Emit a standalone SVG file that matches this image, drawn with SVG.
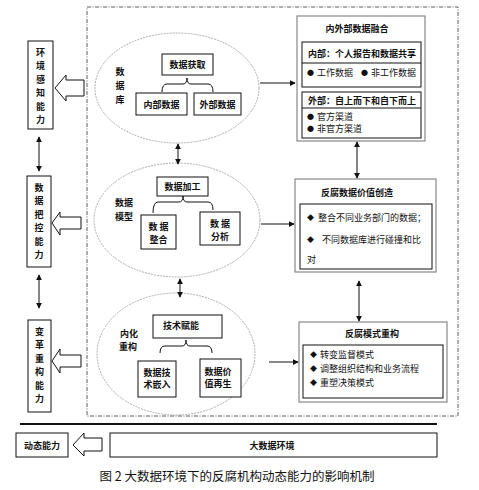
<svg xmlns="http://www.w3.org/2000/svg" width="479" height="490" viewBox="0 0 479 490">
<defs>
<style>
text{font-family:"Noto Sans CJK SC","Liberation Sans",sans-serif;font-size:9px;fill:#111;}
.c{text-anchor:middle;dominant-baseline:central;}
.l{dominant-baseline:central;}
.b{font-weight:bold;}
.d{font-size:7px;}
.box{fill:#fff;stroke:#111;stroke-width:1;}
.gbox{fill:#fff;stroke:#888;stroke-width:1.2;}
.ell{fill:#fff;stroke:#999;stroke-width:0.8;stroke-dasharray:2 1;}
.hol{fill:#fff;stroke:#111;stroke-width:1;}
.ln{fill:none;stroke:#111;stroke-width:1;}
.br{fill:none;stroke:#111;stroke-width:1;}
</style>
<marker id="ah" viewBox="0 0 8 8" refX="7" refY="4" markerWidth="6" markerHeight="6" orient="auto-start-reverse" markerUnits="userSpaceOnUse">
<path d="M0,0 L8,4 L0,8 z" fill="#111"/>
</marker>
</defs>
<rect width="479" height="490" fill="#fff"/>

<!-- outer dashed frame -->
<rect x="87" y="7" width="371" height="409" fill="none" stroke="#333" stroke-width="0.8" stroke-dasharray="4 1.5 1 1.5"/>

<!-- left capability boxes -->
<g id="env">
<rect class="box" x="28" y="41" width="25" height="88"/>
<text class="c b" x="40.5" y="52">环</text><text class="c b" x="40.5" y="65.5">境</text><text class="c b" x="40.5" y="79">感</text><text class="c b" x="40.5" y="92.5">知</text><text class="c b" x="40.5" y="106">能</text><text class="c b" x="40.5" y="119.5">力</text>
</g>
<g id="ctrl">
<rect class="box" x="27" y="176" width="24" height="91"/>
<text class="c b" x="39" y="187">数</text><text class="c b" x="39" y="200.5">据</text><text class="c b" x="39" y="214">把</text><text class="c b" x="39" y="227.5">控</text><text class="c b" x="39" y="241">能</text><text class="c b" x="39" y="254.5">力</text>
</g>
<g id="reform">
<rect class="box" x="28" y="320" width="23" height="92"/>
<text class="c b" x="39.5" y="331">变</text><text class="c b" x="39.5" y="344.5">革</text><text class="c b" x="39.5" y="358">重</text><text class="c b" x="39.5" y="371.5">构</text><text class="c b" x="39.5" y="385">能</text><text class="c b" x="39.5" y="398.5">力</text>
</g>
<g id="dyn">
<rect class="box" x="16" y="433" width="52" height="24"/>
<text class="c b" x="42" y="445">动态能力</text>
</g>
<g id="bigdata">
<rect class="box" x="110" y="433" width="327" height="24"/>
<text class="c b" x="272" y="445">大数据环境</text>
</g>

<!-- ellipse 1: database -->
<g id="db">
<ellipse class="ell" cx="177" cy="88" rx="82" ry="55"/>
<text class="c b" x="120" y="71">数</text><text class="c b" x="120" y="85">据</text><text class="c b" x="120" y="99">库</text>
<rect class="box" x="162" y="54" width="51" height="21"/>
<text class="c b" x="187.5" y="64.5">数据获取</text>
<path class="br" d="M162,92 Q162,84 167,84 L183,84 Q187,84 187,78 Q187,84 191,84 L208,84 Q213,84 213,92"/>
<rect class="box" x="136" y="93" width="51" height="22"/>
<text class="c b" x="161.5" y="104">内部数据</text>
<rect class="box" x="194" y="93" width="47" height="22"/>
<text class="c b" x="217.5" y="104">外部数据</text>
</g>

<!-- ellipse 2: data model -->
<g id="model">
<ellipse class="ell" cx="177" cy="220" rx="83" ry="57"/>
<text class="c b" x="124" y="202">数据</text><text class="c b" x="124" y="216">模型</text>
<rect class="box" x="157" y="177" width="51" height="19"/>
<text class="c b" x="182.5" y="186.5">数据加工</text>
<path class="br" d="M153,213 Q153,202 158,202 L179,202 Q183,202 183,196 Q183,202 187,202 L208,202 Q213,202 213,210"/>
<rect class="box" x="141" y="215" width="35" height="34"/>
<text class="c b" x="158.5" y="226">数 据</text><text class="c b" x="158.5" y="239.5">整合</text>
<rect class="box" x="200" y="212" width="40" height="33"/>
<text class="c b" x="220" y="223">数 据</text><text class="c b" x="220" y="236.5">分析</text>
</g>

<!-- ellipse 3: internalization -->
<g id="intern">
<ellipse class="ell" cx="176" cy="354" rx="79" ry="61"/>
<text class="c b" x="129" y="333">内化</text><text class="c b" x="128" y="346">重构</text>
<rect class="box" x="153" y="315" width="69" height="23"/>
<text class="c b" x="181" y="325">技术赋能</text>
<path class="br" d="M160,353 Q160,346 165,346 L182,346 Q186,346 186,340 Q186,346 190,346 L207,346 Q212,346 212,353"/>
<rect class="box" x="138" y="361" width="38" height="36"/>
<text class="c b" x="157" y="372">数据技</text><text class="c b" x="157" y="384">术嵌入</text>
<rect class="box" x="200" y="359" width="41" height="38"/>
<text class="c b" x="218" y="371">数据价</text><text class="c b" x="218" y="383">值再生</text>
</g>

<!-- right box 1 -->
<g id="fusion">
<rect class="gbox" x="297" y="16" width="128" height="125"/>
<text class="c b" x="357" y="28">内外部数据融合</text>
<rect class="box" x="302" y="42" width="119" height="45"/>
<line class="ln" x1="302" y1="63" x2="421" y2="63"/>
<text class="c b" x="362" y="53.5">内部：个人报告和数据共享</text>
<text class="l d" x="307" y="72">●</text><text class="l" x="317" y="72">工作数据</text>
<text class="l d" x="361" y="72">●</text><text class="l" x="371" y="72">非工作数据</text>
<rect class="box" x="302" y="92" width="119" height="46"/>
<line class="ln" x1="302" y1="108" x2="421" y2="108"/>
<text class="c b" x="362" y="100">外部：自上而下和自下而上</text>
<text class="l d" x="307" y="116">●</text><text class="l" x="317" y="116">官方渠道</text>
<text class="l d" x="307" y="128">●</text><text class="l" x="317" y="128">非官方渠道</text>
</g>

<!-- right box 2 -->
<g id="value">
<rect class="gbox" x="295" y="179" width="141" height="93"/>
<text class="c b" x="357" y="192">反腐数据价值创造</text>
<rect class="box" x="300" y="204" width="132" height="65"/>
<text class="l d" x="307" y="217">◆</text><text class="l" x="318" y="217">整合不同业务部门的数据；</text>
<text class="l d" x="307" y="239">◆</text><text class="l" x="322" y="239">不同数据库进行碰撞和比</text>
<text class="l" x="307" y="259">对</text>
</g>

<!-- right box 3 -->
<g id="mode">
<rect class="gbox" x="299" y="322" width="148" height="80"/>
<text class="c b" x="372" y="333">反腐模式重构</text>
<rect class="box" x="303" y="345" width="140" height="53"/>
<text class="l d" x="310" y="354">◆</text><text class="l" x="320" y="354">转变监督模式</text>
<text class="l d" x="310" y="368">◆</text><text class="l" x="320" y="368">调整组织结构和业务流程</text>
<text class="l d" x="310" y="382">◆</text><text class="l" x="320" y="382">重塑决策模式</text>
</g>

<!-- connectors -->
<g id="connectors">
<polygon class="hol" points="55,88 66,75 66,80 84,80 84,96 66,96 66,101"/>
<polygon class="hol" points="52,223 60,212 60,217 81,217 81,229 60,229 60,235"/>
<polygon class="hol" points="52,361 60,349 60,355 81,355 81,367 60,367 60,373"/>
<polygon class="hol" points="73,445 84,433 84,438 102,438 102,451 84,451 84,456"/>
<line class="ln" x1="39" y1="137" x2="39" y2="171" marker-start="url(#ah)" marker-end="url(#ah)"/>
<line class="ln" x1="39" y1="275" x2="39" y2="308" marker-start="url(#ah)" marker-end="url(#ah)"/>
<line class="ln" x1="178" y1="144" x2="178" y2="164" marker-start="url(#ah)" marker-end="url(#ah)"/>
<line class="ln" x1="180" y1="279" x2="180" y2="297" marker-start="url(#ah)" marker-end="url(#ah)"/>
<line class="ln" x1="357" y1="142" x2="357" y2="178" marker-start="url(#ah)" marker-end="url(#ah)"/>
<line class="ln" x1="359" y1="281" x2="359" y2="321" marker-start="url(#ah)" marker-end="url(#ah)"/>
<line class="ln" x1="260" y1="83" x2="295" y2="83" marker-end="url(#ah)"/>
<line class="ln" x1="261" y1="224" x2="294" y2="224" marker-end="url(#ah)"/>
<line class="ln" x1="269" y1="362" x2="298" y2="362" marker-end="url(#ah)"/>
<line x1="20" y1="424" x2="437" y2="424" stroke="#111" stroke-width="2"/>
</g>

<text class="c" x="237" y="475" style="font-size:12.5px;font-family:'Noto Sans CJK SC','Liberation Serif',serif">图 2  大数据环境下的反腐机构动态能力的影响机制</text>
</svg>
